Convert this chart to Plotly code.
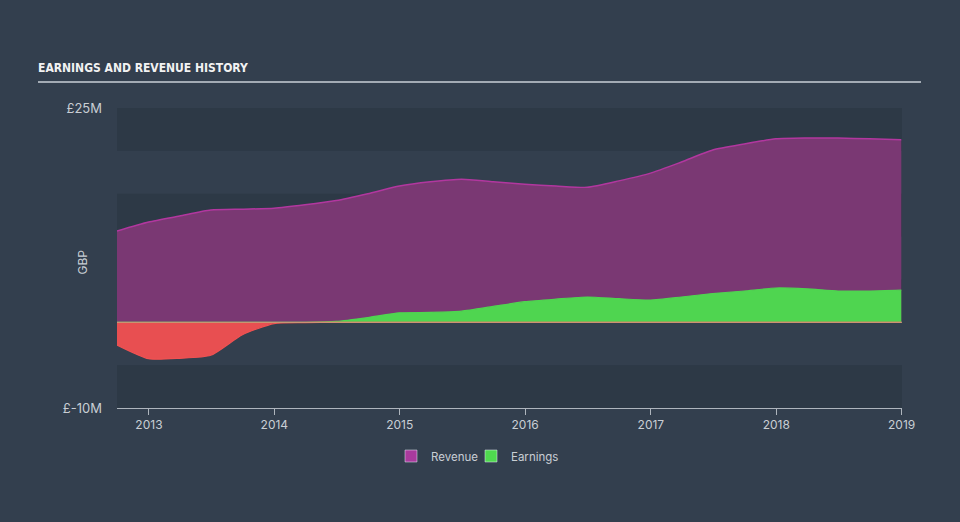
import plotly.graph_objects as go

dates = ["2012-09-30", "2012-12-31", "2013-03-31", "2013-06-30", "2013-09-30", "2013-12-31",
         "2014-03-31", "2014-06-30", "2014-09-30", "2014-12-31", "2015-03-31", "2015-06-30",
         "2015-09-30", "2015-12-31", "2016-03-31", "2016-06-30", "2016-09-30", "2016-12-31",
         "2017-03-31", "2017-06-30", "2017-09-30", "2017-12-31", "2018-03-31", "2018-06-30",
         "2018-09-30", "2018-12-31"]
revenue = [10.65, 11.7, 12.4, 13.1, 13.2, 13.3, 13.7, 14.2, 15.0, 15.9, 16.4, 16.7, 16.4,
           16.1, 15.9, 15.75, 16.5, 17.4, 18.7, 20.1, 20.8, 21.4, 21.5, 21.5, 21.4, 21.3]
earnings = [-2.65, -4.25, -4.2, -3.85, -1.45, -0.15, -0.05, 0.1, 0.55, 1.1, 1.15, 1.3, 1.85,
            2.4, 2.7, 2.95, 2.75, 2.6, 2.95, 3.35, 3.65, 4.0, 3.9, 3.65, 3.65, 3.75]
y_ticks = [-10, 25]
y_tick_labels = ["£-10M", "£25M"]
x_ticks = ["2013-01-01", "2014-01-01", "2015-01-01", "2016-01-01", "2017-01-01", "2018-01-01", "2019-01-01"]
x_tick_labels = ["2013", "2014", "2015", "2016", "2017", "2018", "2019"]

earn_pos = [max(v, 0) for v in earnings]
earn_neg = [min(v, 0) for v in earnings]

BG = "#333f4e"
BAND = "#2d3946"
TXT = "#c9ced4"
FONT = "Inter, Open Sans, sans-serif"

fig = go.Figure()
fig.add_trace(go.Scatter(x=dates, y=revenue, mode="lines", fill="tozeroy",
                         fillcolor="#7a3873", line=dict(color="#b2379f", width=1.5, shape="spline", smoothing=0.6),
                         showlegend=False, hoverinfo="skip"))
fig.add_trace(go.Scatter(x=dates, y=earn_pos, mode="lines", fill="tozeroy",
                         fillcolor="#4fd550", line=dict(color="#4fd550", width=1.2, shape="spline", smoothing=0.6),
                         showlegend=False, hoverinfo="skip"))
fig.add_trace(go.Scatter(x=dates, y=earn_neg, mode="lines", fill="tozeroy",
                         fillcolor="#e84f51", line=dict(color="#f05252", width=1.2, shape="spline", smoothing=0.6),
                         showlegend=False, hoverinfo="skip"))
# legend entries
fig.add_trace(go.Bar(x=[None], y=[None], name="Revenue", marker_color="#a93a9d", legend="legend"))
fig.add_trace(go.Bar(x=[None], y=[None], name="Earnings", marker_color="#4fd94f", legend="legend2"))

shapes = []
for lo, hi in [(20, 25), (10, 15), (0, 5), (-10, -5)]:
    shapes.append(dict(type="rect", xref="paper", yref="y", x0=0, x1=1, y0=lo, y1=hi,
                       fillcolor=BAND, line_width=0, layer="below"))
shapes.append(dict(type="line", xref="paper", yref="y", x0=0, x1=1, y0=0, y1=0,
                   line=dict(color="#c7a27c", width=1), layer="above"))
shapes.append(dict(type="line", xref="paper", yref="paper", x0=(38 - 117) / 785, x1=(921 - 117) / 785,
                   y0=(408 - 82) / 300, y1=(408 - 82) / 300, line=dict(color="#a3abb4", width=2)))

legend_common = dict(orientation="h", xanchor="left", xref="container",
                     y=1 - 456 / 522, yanchor="middle", yref="container",
                     font=dict(family=FONT, size=11.5, color=TXT), bgcolor="rgba(0,0,0,0)")

fig.update_layout(
    width=960, height=522,
    margin=dict(l=117, r=58, t=108, b=114, autoexpand=False),
    paper_bgcolor=BG, plot_bgcolor=BG,
    shapes=shapes,
    title=dict(text="<b>EARNINGS AND REVENUE HISTORY</b>", x=38 / 960, xanchor="left", xref="container",
               y=1 - 68 / 522, yanchor="middle", yref="container",
               font=dict(family="Liberation Sans Narrow, DejaVu Sans Condensed, sans-serif", size=12, color="#f2f2f2")),
    xaxis=dict(type="date", range=["2012-09-30", "2019-01-02"], tickvals=x_ticks, ticktext=x_tick_labels,
               showgrid=False, zeroline=False, showline=True, linecolor="#aeb5bd", linewidth=1,
               ticks="outside", ticklen=6, tickcolor="#aeb5bd", automargin=False,
               tickfont=dict(family=FONT, size=12, color=TXT)),
    yaxis=dict(range=[-10, 25], tickvals=y_ticks, ticktext=y_tick_labels, showgrid=False, zeroline=False,
               showline=False, ticks="", ticklabelstandoff=14, automargin=False,
               tickfont=dict(family=FONT, size=13, color=TXT)),
    legend=dict(x=391 / 960, **legend_common),
    legend2=dict(x=471 / 960, **legend_common),
    annotations=[dict(text="GBP", textangle=-90, xref="paper", yref="paper",
                      x=(72 - 117) / 785, y=(408 - 262) / 300, showarrow=False,
                      font=dict(family=FONT, size=12, color=TXT))],
    bargap=0,
)

fig.write_html("out.html")
